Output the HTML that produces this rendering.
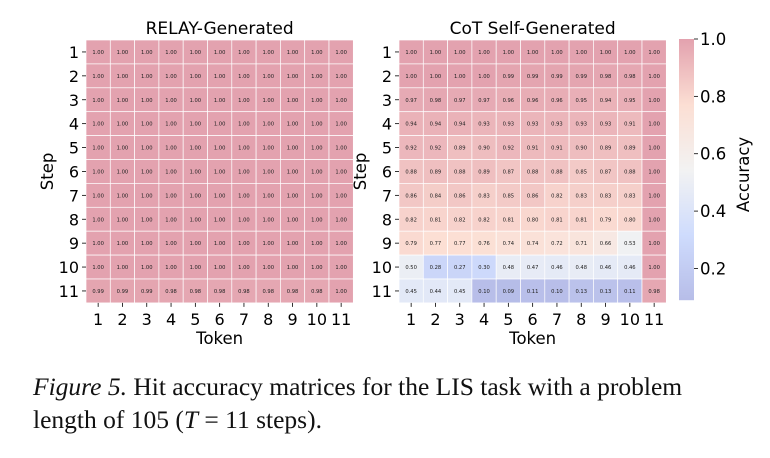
<!DOCTYPE html>
<html><head><meta charset="utf-8"><style>
body{margin:0;background:#fff;width:770px;height:458px;overflow:hidden}
svg text{font-family:"DejaVu Sans","Liberation Sans",sans-serif}
.cap{position:absolute;left:33px;top:370px;font-family:"Liberation Serif",serif;font-size:25.5px;line-height:33px;color:#111;width:740px;white-space:nowrap}
</style></head><body>
<svg id="chart" width="770" height="360" style="position:absolute;left:0;top:0"></svg>
<div class="cap"><i>Figure 5.</i> Hit accuracy matrices for the LIS task with a problem<br>length of 105 (<i>T</i>&nbsp;=&nbsp;11 steps).</div>
<script>
const steps=[1,2,3,4,5,6,7,8,9,10,11];
const tokens=[1,2,3,4,5,6,7,8,9,10,11];
const relayRows=[
[1,1,1,1,1,1,1,1,1,1,1],[1,1,1,1,1,1,1,1,1,1,1],[1,1,1,1,1,1,1,1,1,1,1],
[1,1,1,1,1,1,1,1,1,1,1],[1,1,1,1,1,1,1,1,1,1,1],[1,1,1,1,1,1,1,1,1,1,1],
[1,1,1,1,1,1,1,1,1,1,1],[1,1,1,1,1,1,1,1,1,1,1],[1,1,1,1,1,1,1,1,1,1,1],
[1,1,1,1,1,1,1,1,1,1,1],[0.99,0.99,0.99,0.98,0.98,0.98,0.98,0.98,0.98,0.98,1.00]];
const cotRows=[
[1.00,1.00,1.00,1.00,1.00,1.00,1.00,1.00,1.00,1.00,1.00],
[1.00,1.00,1.00,1.00,0.99,0.99,0.99,0.99,0.98,0.98,1.00],
[0.97,0.98,0.97,0.97,0.96,0.96,0.96,0.95,0.94,0.95,1.00],
[0.94,0.94,0.94,0.93,0.93,0.93,0.93,0.93,0.93,0.91,1.00],
[0.92,0.92,0.89,0.90,0.92,0.91,0.91,0.90,0.89,0.89,1.00],
[0.88,0.89,0.88,0.89,0.87,0.88,0.88,0.85,0.87,0.88,1.00],
[0.86,0.84,0.86,0.83,0.85,0.86,0.82,0.83,0.83,0.83,1.00],
[0.82,0.81,0.82,0.82,0.81,0.80,0.81,0.81,0.79,0.80,1.00],
[0.79,0.77,0.77,0.76,0.74,0.74,0.72,0.71,0.66,0.53,1.00],
[0.50,0.28,0.27,0.30,0.48,0.47,0.46,0.48,0.46,0.46,1.00],
[0.45,0.44,0.45,0.10,0.09,0.11,0.10,0.13,0.13,0.11,0.98]];
const cbTicks=[0.2,0.4,0.6,0.8,1.0];
const vmin=0.09,vmax=1.0;
const NS="http://www.w3.org/2000/svg";
const svg=document.getElementById('chart');
function mk(t,a,p){const e=document.createElementNS(NS,t);for(const k in a)e.setAttribute(k,a[k]);(p||svg).appendChild(e);return e;}
const anchors=[[0,[59,76,192]],[0.25,[124,159,249]],[0.5,[221,221,221]],[0.75,[246,167,137]],[1,[180,4,38]]];
function color(v){let t=Math.max(0,Math.min(1,(v-vmin)/(vmax-vmin)));
 for(let i=0;i<anchors.length-1;i++){const[a,c0]=anchors[i],[b,c1]=anchors[i+1];
  if(t<=b){const f=(t-a)/(b-a);const c=c0.map((x,j)=>x+(c1[j]-x)*f).map(x=>Math.round(x*0.37+255*0.63));return `rgb(${c})`;}}}
const cw=24.3,ch=23.9,top0=40;
function heat(x0,rows,title,name){
 const g=mk('g',{});
 const xs=i=>x0+i*cw, ys=i=>top0+i*ch;
 rows.forEach((r,i)=>r.forEach((v,j)=>{
  const c=mk('rect',{x:xs(j),y:ys(i),width:cw,height:ch,fill:color(v),stroke:'#fff','stroke-width':0.7},g);
  
  const t=mk('text',{x:xs(j)+cw/2,y:ys(i)+ch/2+2,'text-anchor':'middle','font-size':5.2,fill:'#222'},g);t.textContent=v.toFixed(2);
 }));
 steps.forEach((s,i)=>{mk('line',{x1:x0-4,x2:x0,y1:ys(i)+ch/2,y2:ys(i)+ch/2,stroke:'#000','stroke-width':0.8},g);
  const t=mk('text',{x:x0-7,y:ys(i)+ch/2+6,'text-anchor':'end','font-size':16},g);t.textContent=s;});
 tokens.forEach((s,j)=>{const yb=ys(11);mk('line',{x1:xs(j)+cw/2,x2:xs(j)+cw/2,y1:yb,y2:yb+4,stroke:'#000','stroke-width':0.8},g);
  const t=mk('text',{x:xs(j)+cw/2,y:yb+22,'text-anchor':'middle','font-size':16},g);t.textContent=s;});
 const tt=mk('text',{x:x0+cw*5.5,y:34,'text-anchor':'middle','font-size':17},g);tt.textContent=title;
 const xl=mk('text',{x:x0+cw*5.5,y:344,'text-anchor':'middle','font-size':16.5},g);xl.textContent='Token';
 const yl=mk('text',{x:0,y:0,'text-anchor':'middle','font-size':16.5,transform:`translate(${x0-33},${top0+ch*5.5}) rotate(-90)`},g);yl.textContent='Step';
}
heat(86,relayRows,'RELAY-Generated','relay-heatmap');
heat(399,cotRows,'CoT Self-Generated','cot-heatmap');
const cb=mk('g',{});
const cbx=679,cbw=15,cbt=39,cbb=300;
const cy=v=>cbb-(v-vmin)/(vmax-vmin)*(cbb-cbt);
for(let y=cbt;y<cbb;y++){const v=vmax-(y-cbt)/(cbb-cbt)*(vmax-vmin);mk('rect',{x:cbx,y:y,width:cbw,height:1.2,fill:color(v)},cb);}
cbTicks.forEach(v=>{mk('line',{x1:cbx+cbw,x2:cbx+cbw+4,y1:cy(v),y2:cy(v),stroke:'#000','stroke-width':0.8},cb);
 const t=mk('text',{x:cbx+cbw+6,y:cy(v)+6,'font-size':16.5},cb);t.textContent=v.toFixed(1);});
const al=mk('text',{x:0,y:0,'text-anchor':'middle','font-size':16.5,transform:`translate(749,${(cbt+cbb)/2+5}) rotate(-90)`},cb);al.textContent='Accuracy';
</script>
</body></html>
